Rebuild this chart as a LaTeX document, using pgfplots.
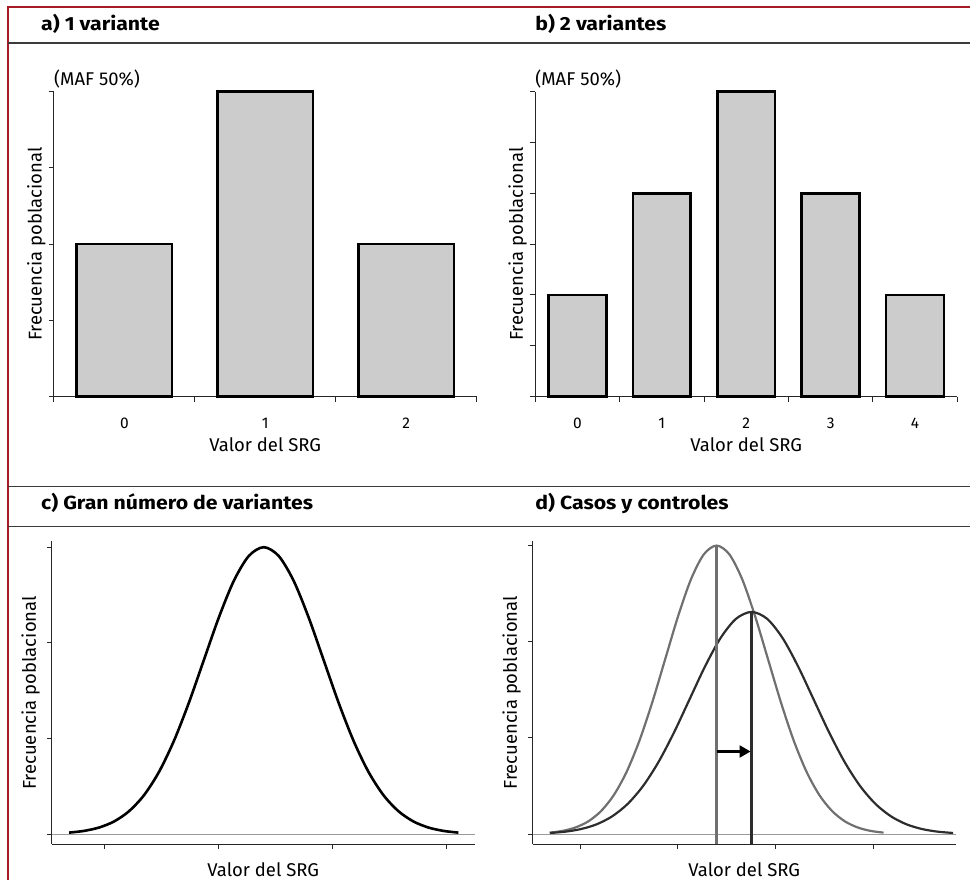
\documentclass[border=0pt]{standalone}
\usepackage{fontspec}
\setmainfont{Fira Sans}
\newfontfamily\titlefamily{Fira Sans}[FakeStretch=1.12]
\usepackage{pgfplots}
\pgfplotsset{compat=1.18}
\usetikzlibrary{arrows.meta}

\definecolor{borderred}{RGB}{165,28,36}
\definecolor{rulegray}{RGB}{60,60,60}
\definecolor{barfill}{RGB}{204,204,204}
\definecolor{ctrl}{RGB}{112,112,112}
\definecolor{casecol}{RGB}{45,45,45}
\definecolor{basegray}{RGB}{155,155,155}

\newcommand{\labfont}{\fontsize{18.5}{21}\selectfont}
\newcommand{\tickfont}{\fontsize{15.5}{17}\selectfont}
\newcommand{\titfont}{\titlefamily\fontsize{19}{22}\selectfont\bfseries}

\pgfplotsset{
  panel/.style={
    scale only axis,
    axis x line*=bottom,
    axis y line*=left,
    axis line style={black!85, line width=0.9pt},
    tick align=outside,
    major tick length=5pt,
    tick style={black!85, line width=0.9pt},
    yticklabels={},
    clip=false,
    /pgf/number format/assume math mode=true,
    tick label style={font=\tickfont},
    label style={font=\labfont},
    xlabel={Valor del SRG},
    ylabel={Frecuencia poblacional},
  },
  barpanel/.style={
    panel,
    ymin=0,
    xticklabels={},
    xlabel style={at={(axis description cs:0.5,0)}, anchor=base, yshift=-55pt},
    ylabel style={at={(axis description cs:0,0.5)}, anchor=base, yshift=12.3pt},
    extra x tick style={tick style={draw=none}, xticklabel style={anchor=base, yshift=-27pt}},
  },
  curvepanel/.style={
    panel,
    xtick={1,2,3,4},
    xticklabels={},
    ytick={0,1,2,3},
    xlabel style={at={(axis description cs:0.5,0)}, anchor=base, yshift=-32pt},
    ylabel style={at={(axis description cs:0,0.5)}, anchor=base, yshift=16pt},
  },
}

\begin{document}
\begin{tikzpicture}
\path (0pt,0pt) rectangle (971pt,881pt);
% frame and rules
\draw[borderred, line width=2pt] (8pt,0pt) -- (8pt,874pt) -- (971pt,874pt);
\draw[rulegray, line width=1.3pt] (8pt,838pt) -- (971pt,838pt);
\draw[rulegray, line width=1.3pt] (8pt,394pt) -- (971pt,394pt);
\draw[rulegray, line width=1.3pt] (8pt,354pt) -- (971pt,354pt);
% titles
\node[anchor=base west, inner sep=0pt] at (41pt,850pt) {\titfont a) 1 variante};
\node[anchor=base west, inner sep=0pt] at (535.7pt,850pt) {\titfont b) 2 variantes};
\node[anchor=base west, inner sep=0pt] at (41pt,371pt) {\titfont c) Gran número de variantes};
\node[anchor=base west, inner sep=0pt] at (535.7pt,371pt) {\titfont d) Casos y controles};

% ---------- a) 1 variante
\begin{scope}[shift={(54pt,484pt)}]
\begin{axis}[barpanel,
  width=423pt, height=305.3pt,
  xmin=-0.5, xmax=2.5, ymin=0, ymax=2,
  xtick={-0.5,0.5,1.5,2.5},
  ytick={0,0.5,1,1.5,2},
  extra x ticks={0,1,2}, extra x tick labels={0,1,2},
]
\addplot[ybar, bar width=0.678, fill=barfill, draw=black, line width=2.6pt]
  coordinates {(0,1) (1,2) (2,1)};
\node[anchor=base west, inner sep=0pt, font=\labfont] at (axis cs:-0.5,2) [yshift=6pt] {(MAF 50\%)};
\end{axis}
\end{scope}

% ---------- b) 2 variantes
\begin{scope}[shift={(535.7pt,484pt)}]
\begin{axis}[barpanel,
  width=422.6pt, height=305.3pt,
  xmin=-0.5, xmax=4.5, ymin=0, ymax=3,
  xtick={-0.5,0.5,1.5,2.5,3.5,4.5},
  ytick={0,0.5,1,1.5,2,2.5,3},
  extra x ticks={0,1,2,3,4}, extra x tick labels={0,1,2,3,4},
]
\addplot[ybar, bar width=0.686, fill=barfill, draw=black, line width=2.6pt]
  coordinates {(0,1) (1,2) (2,3) (3,2) (4,1)};
\node[anchor=base west, inner sep=0pt, font=\labfont] at (axis cs:-0.5,3) [yshift=6pt] {(MAF 50\%)};
\end{axis}
\end{scope}

% ---------- c) Gran numero de variantes
\begin{scope}[shift={(52pt,36pt)}]
\begin{axis}[curvepanel,
  width=423pt, height=303pt,
  xmin=0.535, xmax=4.246, ymin=-0.105, ymax=3.06,
]
\addplot[basegray, line width=0.9pt] coordinates {(0.535,0) (4.246,0)};
\addplot[black, line width=2.6pt, smooth] coordinates {
(0.6855,0.0153) (0.817,0.0333) (0.9485,0.0684) (1.080,0.1317) (1.2115,0.2388)
(1.343,0.4060) (1.4745,0.6489) (1.606,0.9741) (1.7375,1.3734) (1.869,1.8196)
(2.0005,2.2644) (2.132,2.6475) (2.2635,2.9076) (2.395,3.0000) (2.5265,2.9076)
(2.658,2.6475) (2.7895,2.2644) (2.921,1.8196) (3.0525,1.3734) (3.184,0.9741)
(3.3155,0.6489) (3.447,0.4060) (3.5785,0.2388) (3.710,0.1317) (3.8415,0.0684)
(3.973,0.0333) (4.1045,0.0153)};
\end{axis}
\end{scope}

% ---------- d) Casos y controles
\begin{scope}[shift={(533.3pt,36pt)}]
\begin{axis}[curvepanel,
  width=423.4pt, height=303.3pt,
  xmin=0.515, xmax=4.845, ymin=-0.104, ymax=3.046,
]
\addplot[basegray, line width=0.9pt] coordinates {(0.515,0) (4.845,0)};
% controls
\addplot[ctrl, line width=2.2pt, smooth] coordinates {
(0.6875,0.0153) (0.819,0.0333) (0.9505,0.0684) (1.082,0.1317) (1.2135,0.2388)
(1.345,0.4060) (1.4765,0.6489) (1.608,0.9741) (1.7395,1.3734) (1.871,1.8196)
(2.0025,2.2644) (2.134,2.6475) (2.2655,2.9076) (2.397,3.0000) (2.5285,2.9076)
(2.660,2.6475) (2.7915,2.2644) (2.923,1.8196) (3.0545,1.3734) (3.186,0.9741)
(3.3175,0.6489) (3.449,0.4060) (3.5805,0.2388) (3.712,0.1317) (3.8435,0.0684)
(3.975,0.0333) (4.1065,0.0153)};
% cases
\addplot[casecol, line width=2.2pt, smooth] coordinates {
(0.6913,0.0118) (0.850,0.0256) (1.0088,0.0527) (1.1675,0.1014) (1.3263,0.1839)
(1.485,0.3125) (1.6438,0.4997) (1.8025,0.7501) (1.9613,1.0575) (2.120,1.4010)
(2.2788,1.7436) (2.4375,2.0386) (2.5963,2.2389) (2.755,2.3100) (2.9138,2.2389)
(3.0725,2.0386) (3.2313,1.7436) (3.390,1.4010) (3.5488,1.0575) (3.7075,0.7501)
(3.8663,0.4997) (4.025,0.3125) (4.1838,0.1839) (4.3425,0.1014) (4.5013,0.0527)
(4.660,0.0256) (4.8188,0.0118)};
% mean lines
\addplot[ctrl, line width=2.2pt] coordinates {(2.397,-0.104) (2.397,3.0)};
\addplot[casecol, line width=2.2pt] coordinates {(2.755,-0.104) (2.755,2.31)};
% shift arrow
\addplot[black, line width=2.2pt, -{Triangle[length=11pt,width=12pt]}, shorten >=1pt]
  coordinates {(2.397,0.859) (2.755,0.859)};
\end{axis}
\end{scope}
\end{tikzpicture}
\end{document}
